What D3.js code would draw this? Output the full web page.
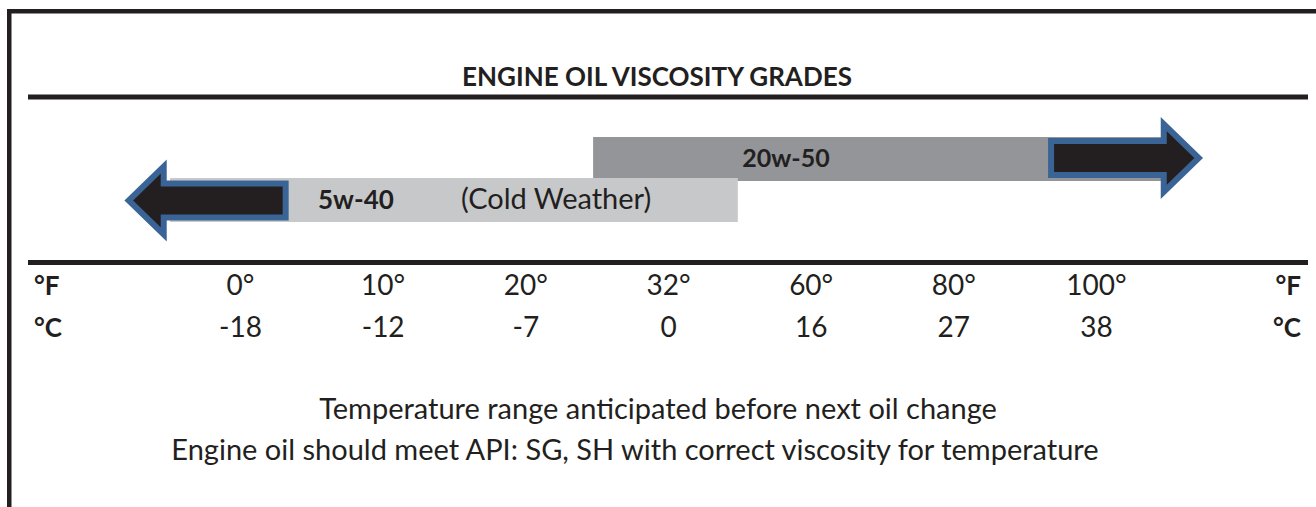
<!DOCTYPE html>
<html>
<head>
<meta charset="utf-8">
<script src="https://cdn.jsdelivr.net/npm/d3@7"></script>
<style>
  html, body { margin: 0; padding: 0; background: #fff; }
  svg { display: block; }
  text { font-family: Lato, "Open Sans", sans-serif; fill: #231f20; }
</style>
</head>
<body>
<svg id="chart" width="1316" height="507"></svg>
<script>
// ---- data ----
const title = "ENGINE OIL VISCOSITY GRADES";
const tickF = [0, 10, 20, 32, 60, 80, 100];
const tickFLabels = ["0°", "10°", "20°", "32°", "60°", "80°", "100°"];
const tickCLabels = ["-18", "-12", "-7", "0", "16", "27", "38"];
const grades = ["20w-50", "5w-40"];
const gradeFrom = [25.7, -4.9];     // °F, bar start
const gradeTo = [109.7, 45.7];      // °F, bar end
const gradeNotes = ["", "(Cold Weather)"];
const arrowTail = [93.7, 3.2];      // °F
const arrowTip = [114.4, -7.8];     // °F
const notes = [
  "Temperature range anticipated before next oil change",
  "Engine oil should meet API: SG, SH with correct viscosity for temperature"
];

// ---- layout ----
const svg = d3.select("#chart");
const W = 1316, H = 507;
const ink = "#231f20";

// piecewise scale: each tick equally spaced
const x = d3.scaleLinear()
  .domain(tickF)
  .range(tickF.map((d, i) => 240 + i * 142.67));

const y = d3.scalePoint().domain(grades).range([159, 200]);
const barH = 44;
const barColors = ["#939598", "#c7c8ca"];

// frame
svg.append("rect").attr("x", 7).attr("y", 9).attr("width", W).attr("height", 4.5).attr("fill", ink);
svg.append("rect").attr("x", 7).attr("y", 9).attr("width", 4.5).attr("height", H).attr("fill", ink);

// title + rule
svg.append("text").attr("x", 657).attr("y", 86)
  .attr("text-anchor", "middle").attr("font-weight", "bold").attr("font-size", 26)
  .text(title);
svg.append("rect").attr("x", 28).attr("y", 94.5).attr("width", 1280).attr("height", 5).attr("fill", ink);

// bars
const g = svg.append("g");
g.selectAll("rect.bar").data(grades).join("rect")
  .attr("class", "bar")
  .attr("x", (d, i) => x(gradeFrom[i]))
  .attr("width", (d, i) => x(gradeTo[i]) - x(gradeFrom[i]))
  .attr("y", d => y(d) - barH / 2)
  .attr("height", barH)
  .attr("fill", (d, i) => barColors[i]);

// arrows
function arrowPath(tail, tip, cy) {
  const dir = tip > tail ? 1 : -1;
  const headLen = 35, headHalf = 34, bodyHalf = 17;
  const base = tip - dir * headLen;
  return d3.line()([
    [tail, cy - bodyHalf], [base, cy - bodyHalf], [base, cy - headHalf],
    [tip, cy], [base, cy + headHalf], [base, cy + bodyHalf], [tail, cy + bodyHalf]
  ]) + "Z";
}
g.selectAll("path.arrow").data(grades).join("path")
  .attr("class", "arrow")
  .attr("d", (d, i) => arrowPath(x(arrowTail[i]), x(arrowTip[i]), y(d) - (i === 0 ? 1 : -0.5)))
  .attr("fill", ink)
  .attr("stroke", "#3b6496")
  .attr("stroke-width", 6)
  .attr("stroke-linejoin", "miter");

// grade labels
svg.append("text").attr("x", 786).attr("y", 167).attr("text-anchor", "middle")
  .attr("font-weight", "bold").attr("font-size", 25).text(grades[0]);
svg.append("text").attr("x", 318).attr("y", 208.5)
  .attr("font-weight", "bold").attr("font-size", 26).text(grades[1]);
svg.append("text").attr("x", 461).attr("y", 208.5)
  .attr("font-size", 29).text(gradeNotes[1]);

// axis rule
svg.append("rect").attr("x", 28).attr("y", 260).attr("width", 1280).attr("height", 5).attr("fill", ink);

// tick labels via axis
const axF = svg.append("g").attr("transform", "translate(0,295)")
  .call(d3.axisBottom(x).tickValues(tickF).tickFormat((d, i) => tickFLabels[i]).tickSize(0).tickPadding(0));
const axC = svg.append("g").attr("transform", "translate(0,337)")
  .call(d3.axisBottom(x).tickValues(tickF).tickFormat((d, i) => tickCLabels[i]).tickSize(0).tickPadding(0));
[axF, axC].forEach(a => {
  a.select(".domain").remove();
  a.selectAll("text").attr("font-size", 28).attr("font-family", "Lato, sans-serif")
    .attr("fill", ink).attr("dy", 0).attr("y", 0);
});

// unit labels
[["°F", 295], ["°C", 337]].forEach(([t, yy]) => {
  svg.append("text").attr("x", 34).attr("y", yy).attr("font-weight", "bold").attr("font-size", 26).text(t);
  svg.append("text").attr("x", 1301).attr("y", yy).attr("text-anchor", "end").attr("font-weight", "bold").attr("font-size", 26).text(t);
});

// notes
const noteX = [658, 635];
svg.selectAll("text.note").data(notes).join("text")
  .attr("class", "note")
  .attr("x", (d, i) => noteX[i]).attr("y", (d, i) => 419 + i * 41)
  .attr("text-anchor", "middle").attr("font-size", 29)
  .text(d => d);
</script>
</body>
</html>
